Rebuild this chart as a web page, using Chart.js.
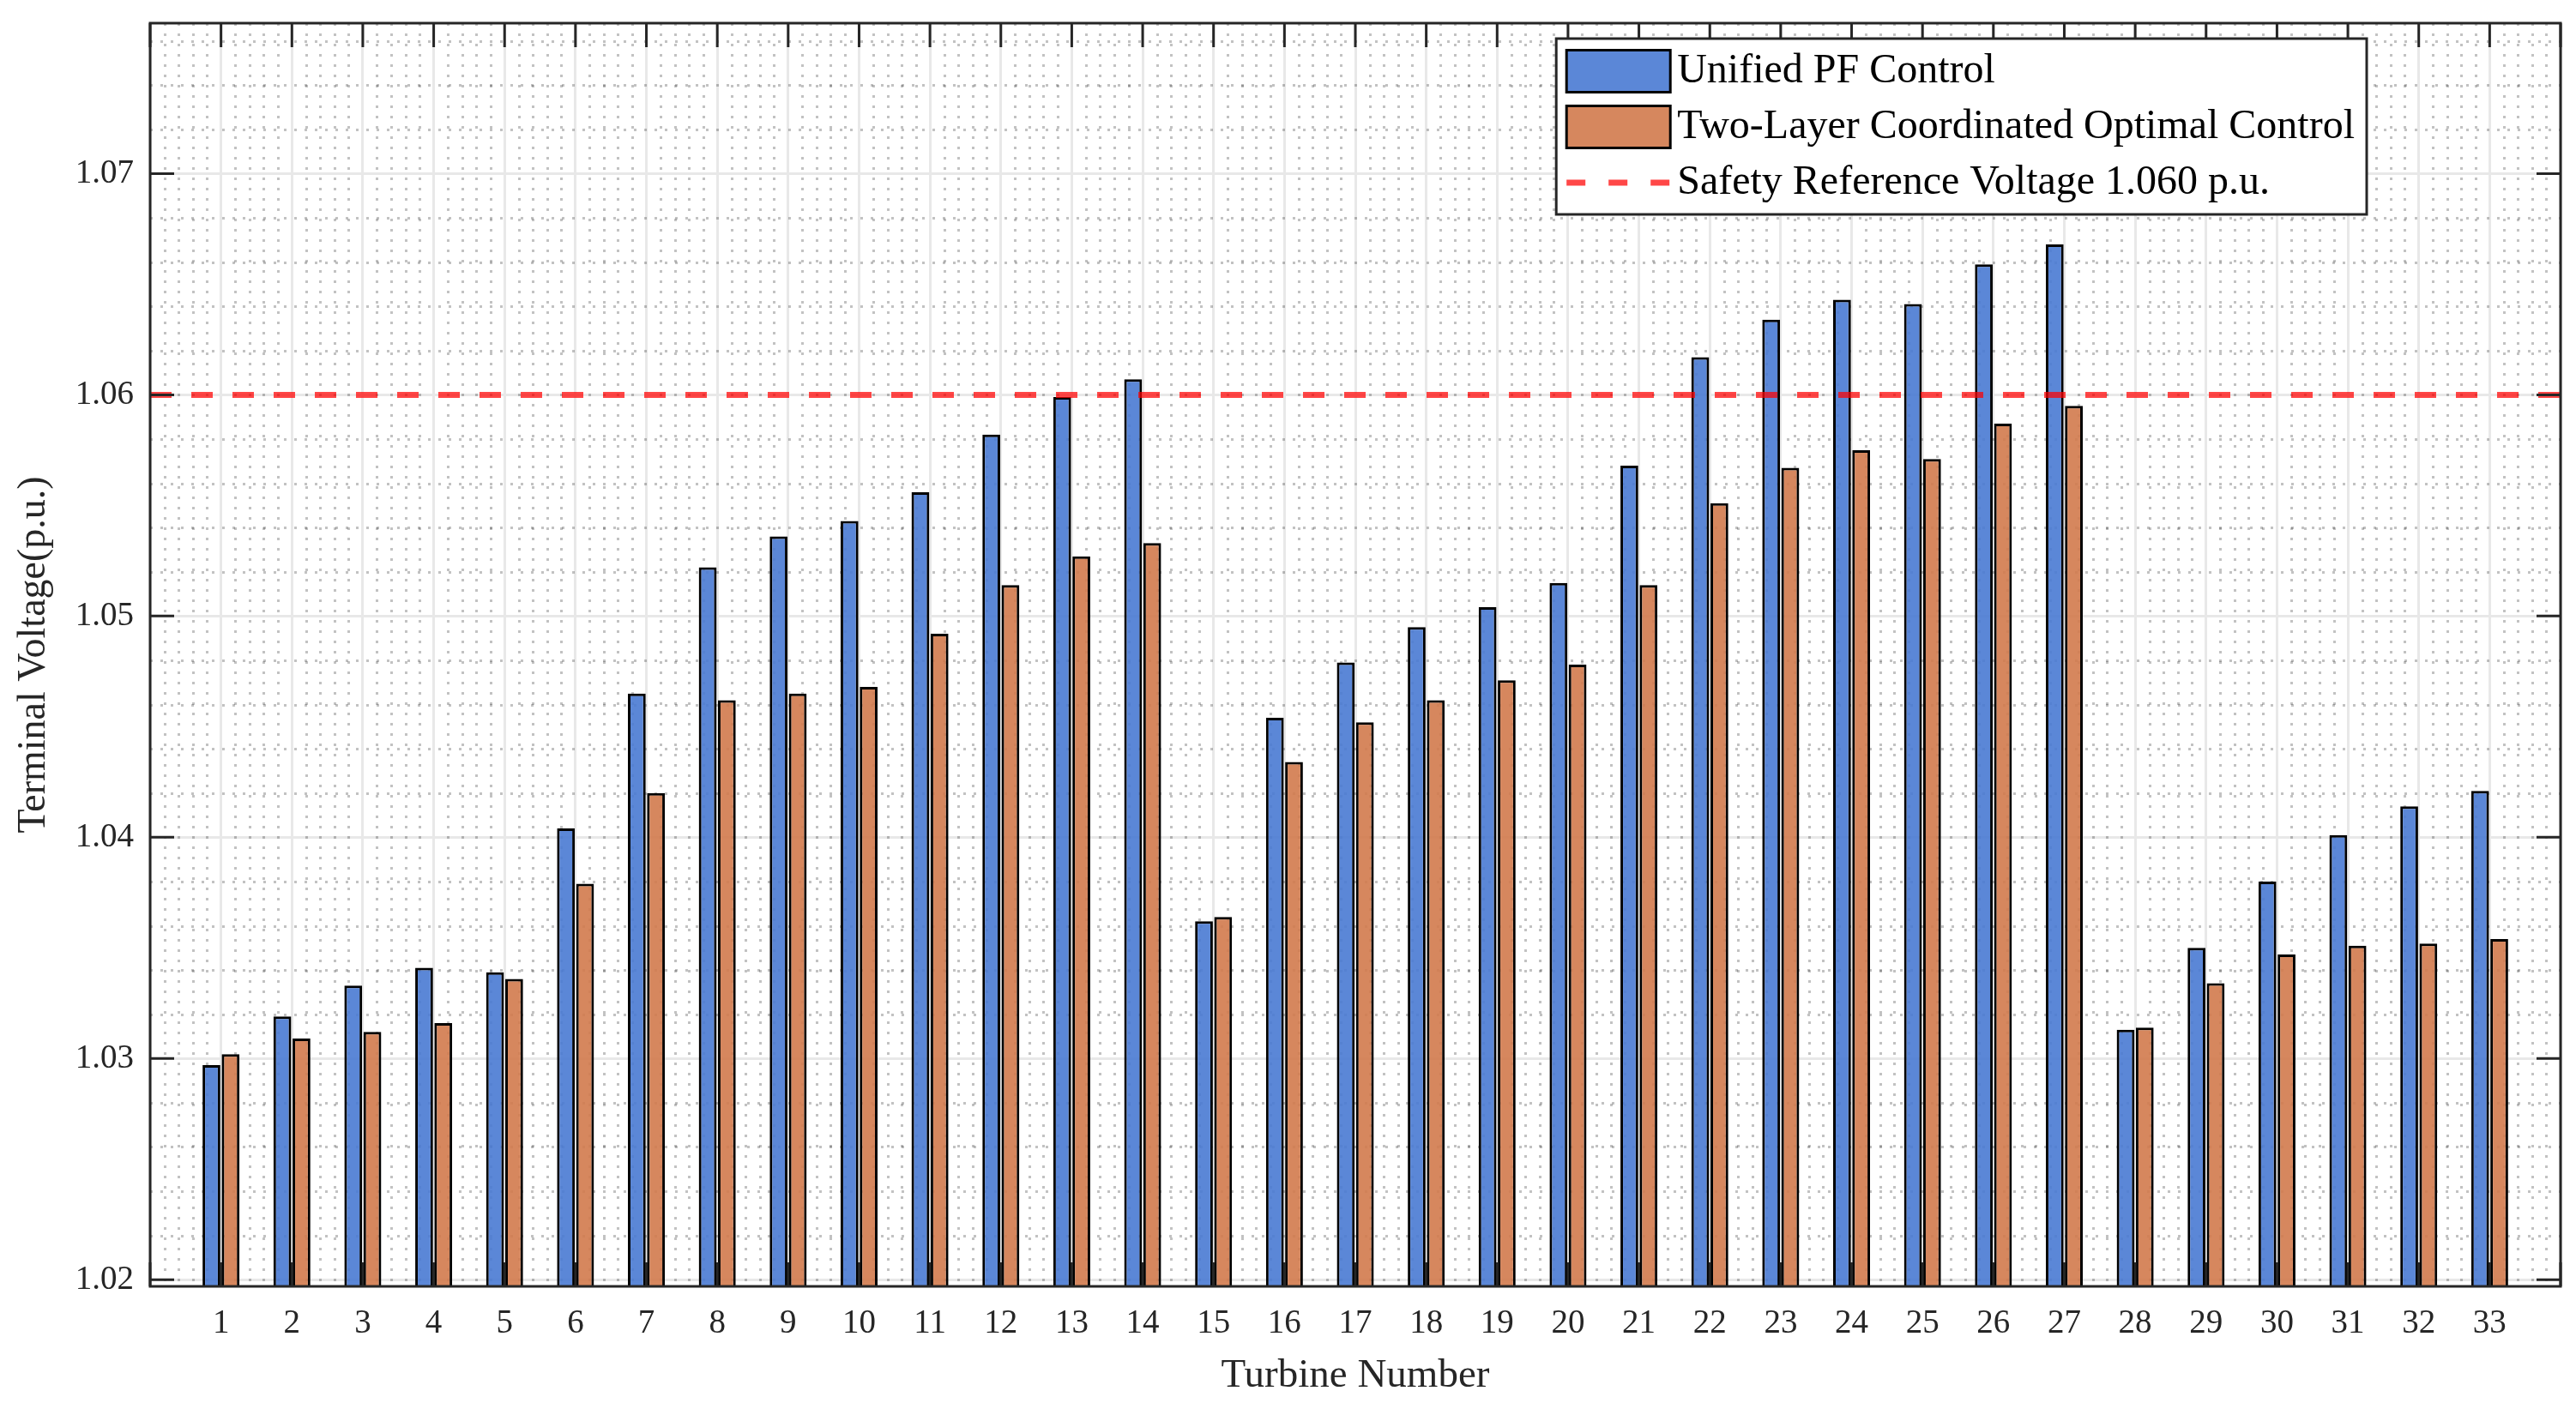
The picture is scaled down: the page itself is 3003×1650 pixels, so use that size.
<!DOCTYPE html>
<html>
<head>
<meta charset="utf-8">
<script src="https://cdn.jsdelivr.net/npm/chart.js@4.4.0/dist/chart.umd.min.js"></script>
<style>
html, body { margin: 0; padding: 0; background: #fff; }
#wrap { width: 3003px; height: 1650px; }
</style>
</head>
<body>
<div id="wrap"><canvas id="barChart" width="3003" height="1650"></canvas></div>
<script>
// values
var turbines = [1, 2, 3, 4, 5, 6, 7, 8, 9, 10, 11, 12, 13, 14, 15, 16, 17,
	18, 19, 20, 21, 22, 23, 24, 25, 26, 27, 28, 29, 30, 31, 32, 33];

var unifiedPF = [1.0297, 1.0319, 1.0333, 1.0341, 1.0339, 1.0404, 1.0465, 1.0522,
	1.0536, 1.0543, 1.0556, 1.0582, 1.0599, 1.0607, 1.0362, 1.0454, 1.0479,
	1.0495, 1.0504, 1.0515, 1.0568, 1.0617, 1.0634, 1.0643, 1.0641, 1.0659,
	1.0668, 1.0313, 1.0350, 1.0380, 1.0401, 1.0414, 1.0421];

var twoLayer = [1.0302, 1.0309, 1.0312, 1.0316, 1.0336, 1.0379, 1.0420, 1.0462,
	1.0465, 1.0468, 1.0492, 1.0514, 1.0527, 1.0533, 1.0364, 1.0434, 1.0452,
	1.0462, 1.0471, 1.0478, 1.0514, 1.0551, 1.0567, 1.0575, 1.0571, 1.0587,
	1.0595, 1.0314, 1.0334, 1.0347, 1.0351, 1.0352, 1.0354];

var safetyVoltage = 1.060;
var xRange = [0, 34];
var yRange = [1.0197, 1.0768];

var FONT = "'Liberation Serif', 'Times New Roman', serif";
var AXIS_COLOR = '#262626';
var colors = {
	blue: 'rgba(73, 122, 211, 0.9)',
	blueSolid: 'rgb(91, 135, 215)',
	orange: 'rgba(209, 122, 76, 0.9)',
	orangeSolid: 'rgb(214, 135, 94)',
	red: 'rgba(255, 0, 0, 0.72)'
};

function pairs(xs, ys) {
	return xs.map(function (x, i) { return { x: x, y: ys[i] }; });
}

// dotted minor grid, like MATLAB's minor grid
var minorGrid = {
	id: 'minorGrid',
	beforeDatasetsDraw: function (chart) {
		var c = chart.ctx, a = chart.chartArea;
		var xs = chart.scales.x, ys = chart.scales.y;
		c.save();
		c.beginPath();
		c.rect(a.left, a.top, a.right - a.left, a.bottom - a.top);
		c.clip();
		c.strokeStyle = 'rgba(0, 0, 0, 0.24)';
		c.lineWidth = 3;
		c.setLineDash([3, 9]);
		var k, p;
		for (k = Math.ceil(xs.min * 5); k <= Math.floor(xs.max * 5); k++) {
			if (k % 5 === 0) continue;
			p = Math.round(xs.getPixelForValue(k / 5)) + 0.5;
			c.beginPath();
			c.moveTo(p, a.top);
			c.lineTo(p, a.bottom);
			c.stroke();
		}
		for (k = Math.ceil(ys.min * 500); k <= Math.floor(ys.max * 500); k++) {
			if (k % 5 === 0) continue;
			p = Math.round(ys.getPixelForValue(k / 500)) + 0.5;
			c.beginPath();
			c.moveTo(a.left, p);
			c.lineTo(a.right, p);
			c.stroke();
		}
		c.restore();
	}
};

// box with inward ticks on all four sides
var axesBox = {
	id: 'axesBox',
	afterDatasetsDraw: function (chart) {
		var c = chart.ctx, a = chart.chartArea;
		var xs = chart.scales.x, ys = chart.scales.y;
		var len = 28;
		c.save();
		c.strokeStyle = AXIS_COLOR;
		c.lineWidth = 3;
		c.setLineDash([]);
		xs.ticks.forEach(function (t) {
			var p = xs.getPixelForValue(t.value);
			c.beginPath();
			c.moveTo(p, a.bottom); c.lineTo(p, a.bottom - len);
			c.moveTo(p, a.top); c.lineTo(p, a.top + len);
			c.stroke();
		});
		ys.ticks.forEach(function (t) {
			var p = ys.getPixelForValue(t.value);
			c.beginPath();
			c.moveTo(a.left, p); c.lineTo(a.left + len, p);
			c.moveTo(a.right, p); c.lineTo(a.right - len, p);
			c.stroke();
		});
		c.strokeRect(a.left, a.top, a.right - a.left, a.bottom - a.top);
		c.restore();
	}
};

// legend box in the upper right of the plot area
var boxLegend = {
	id: 'boxLegend',
	afterDraw: function (chart) {
		var c = chart.ctx, a = chart.chartArea;
		var sets = chart.data.datasets;
		c.save();
		c.font = '48px ' + FONT;
		var textW = 0;
		sets.forEach(function (d) { textW = Math.max(textW, c.measureText(d.label).width); });
		var swW = 121, swH = 49, padL = 12, gap = 8, padR = 14;
		var w = padL + swW + gap + textW + padR, h = 205;
		var right = a.right - 226, top = a.top + 18, left = right - w;
		c.fillStyle = '#fff';
		c.fillRect(left, top, w, h);
		c.lineWidth = 3;
		c.strokeStyle = AXIS_COLOR;
		c.strokeRect(left, top, w, h);
		var rows = [38, 103, 168];
		sets.forEach(function (d, i) {
			var cy = top + rows[i];
			var sx = left + padL;
			if (d.type === 'line') {
				c.strokeStyle = d.borderColor;
				c.lineWidth = 7;
				c.setLineDash([22, 27]);
				c.beginPath();
				c.moveTo(sx, cy); c.lineTo(sx + swW, cy);
				c.stroke();
				c.setLineDash([]);
			} else {
				c.fillStyle = d.legendColor;
				c.fillRect(sx, cy - swH / 2, swW, swH);
				c.strokeStyle = '#000';
				c.lineWidth = 3;
				c.strokeRect(sx, cy - swH / 2, swW, swH);
			}
			c.fillStyle = '#000';
			c.textAlign = 'left';
			c.textBaseline = 'middle';
			c.fillText(d.label, sx + swW + gap, cy);
		});
		c.restore();
	}
};

Chart.defaults.font.family = FONT;
Chart.defaults.color = AXIS_COLOR;

var ctx = document.getElementById('barChart').getContext('2d');
var voltageChart = new Chart(ctx, {
	type: 'bar',
	data: {
		datasets: [{
			label: 'Unified PF Control',
			data: pairs(turbines, unifiedPF),
			backgroundColor: colors.blue,
			legendColor: colors.blueSolid,
			borderColor: '#000',
			borderWidth: 3,
			barPercentage: 0.93,
			categoryPercentage: 0.54,
			order: 1
		}, {
			label: 'Two-Layer Coordinated Optimal Control',
			data: pairs(turbines, twoLayer),
			backgroundColor: colors.orange,
			legendColor: colors.orangeSolid,
			borderColor: '#000',
			borderWidth: 3,
			barPercentage: 0.93,
			categoryPercentage: 0.54,
			order: 1
		}, {
			type: 'line',
			label: 'Safety Reference Voltage 1.060 p.u.',
			data: pairs(xRange, [safetyVoltage, safetyVoltage]),
			borderColor: colors.red,
			borderWidth: 7,
			borderDash: [25, 23],
			pointRadius: 0,
			fill: false,
			order: 0
		}]
	},
	options: {
		responsive: false,
		animation: false,
		devicePixelRatio: 1,
		layout: { padding: { left: 0, right: 18, top: 27, bottom: 0 } },
		plugins: {
			legend: { display: false },
			tooltip: { enabled: false }
		},
		scales: {
			x: {
				type: 'linear',
				min: xRange[0],
				max: xRange[1],
				offset: false,
				grid: { offset: false, color: '#e8e8e8', lineWidth: 3, drawTicks: false },
				border: { display: false },
				ticks: {
					stepSize: 1,
					autoSkip: false,
					maxRotation: 0,
					padding: 20,
					color: AXIS_COLOR,
					font: { size: 39 },
					callback: function (v) { return (v >= 1 && v <= 33) ? String(v) : ''; }
				},
				title: {
					display: true,
					text: 'Turbine Number',
					color: AXIS_COLOR,
					font: { size: 47 },
					padding: { top: 0, bottom: 17 }
				},
				afterFit: function (s) {
					s.height = 150;
					s.paddingLeft = 0;
					s.paddingRight = 0;
				}
			},
			y: {
				min: yRange[0],
				max: yRange[1],
				grid: { color: '#e8e8e8', lineWidth: 3, drawTicks: false },
				border: { display: false },
				ticks: {
					stepSize: 0.01,
					includeBounds: false,
					padding: 19,
					color: AXIS_COLOR,
					font: { size: 39 },
					callback: function (v) { return v.toFixed(2); }
				},
				title: {
					display: true,
					text: 'Terminal Voltage(p.u.)',
					color: AXIS_COLOR,
					font: { size: 46 },
					padding: { top: 12, bottom: 0 }
				},
				afterFit: function (s) {
					s.width = 175;
					s.paddingTop = 0;
					s.paddingBottom = 0;
				}
			}
		}
	},
	plugins: [minorGrid, axesBox, boxLegend]
});
</script>
</body>
</html>
